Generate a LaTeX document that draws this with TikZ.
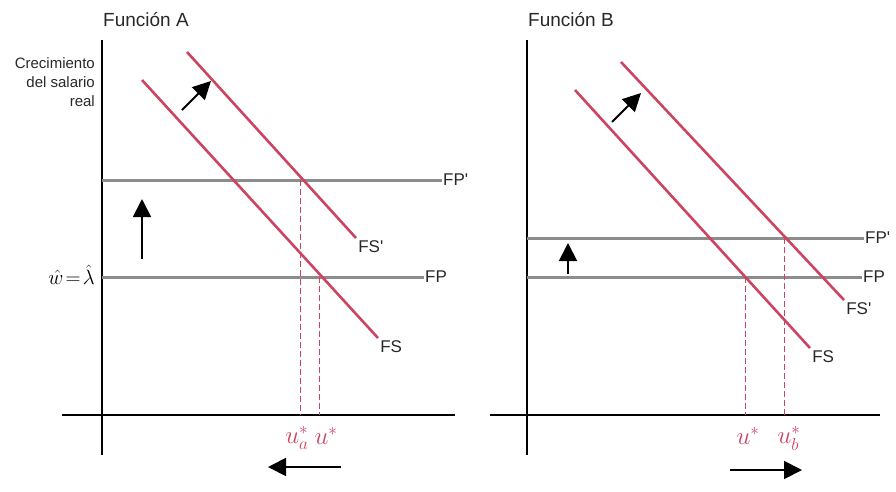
\documentclass[tikz,border=0pt]{standalone}
\usepackage{amsmath,amssymb}
\usepackage{fontspec}
\setmainfont{Liberation Sans}
\usepackage{tikz}
\usetikzlibrary{positioning,arrows.meta,calc}
\definecolor{crimson}{RGB}{204,68,98}
\definecolor{steel}{RGB}{140,140,140}
\definecolor{ink}{RGB}{40,40,40}

\begin{document}
\begin{tikzpicture}[x=1pt,y=-1pt,
   axis/.style={line width=1.6pt,black},
   fpline/.style={line width=3pt,steel},
   fsline/.style={line width=2.6pt,crimson},
   guide/.style={line width=0.8pt,crimson,dash pattern=on 6pt off 3pt},
   mover/.style={line width=1.8pt,-{Triangle[length=18pt,width=18pt]}},
   lbl/.style={text=ink,font=\fontsize{17}{19}\selectfont,inner sep=1pt},
   ttl/.style={text=ink,font=\fontsize{19}{21}\selectfont,anchor=west,inner sep=0pt},
   ulbl/.style={crimson,font=\fontsize{25}{27}\selectfont,inner sep=0pt}]
  \useasboundingbox (0,0) rectangle (896,491);
  % Funcion A
  \node[ttl] (titleA) at (103,20) {Función A};
  \draw[axis] (102,40) -- (102,455);
  \draw[axis] (62,415) -- (455,415);
  \node[align=right,anchor=north east,inner sep=0pt,text=ink,font=\fontsize{15}{19}\selectfont] (ylab) at (95,57) {Crecimiento\\del salario\\real};
  \node[anchor=east,inner sep=0pt,font=\fontsize{20}{22}\selectfont] (wl) at (95,275) {$\hat{w}\!=\!\hat{\lambda}$};
  \coordinate (fpA0) at (102,277);
  \coordinate (fpA1) at (102,180);
  \node[lbl,anchor=west] (fpA) at (424,277) {FP};
  \node[lbl,anchor=west] (fpAp) at (442,180) {FP\textquotesingle};
  \draw[fpline] (fpA0) -- (fpA.west);
  \draw[fpline] (fpA1) -- (fpAp.west);
  \coordinate (fsA0) at (142,80);
  \coordinate (fsA0e) at (378,338);
  \coordinate (fsA1) at (187,52);
  \coordinate (fsA1e) at (356,238);
  \draw[fsline] (fsA0) -- (fsA0e) node[lbl,anchor=north west] (fsA) {FS};
  \draw[fsline] (fsA1) -- (fsA1e) node[lbl,anchor=north west] (fsAp) {FS\textquotesingle};
  \coordinate (arA0) at (182,110);
  \coordinate (arA1) at (211,81);
  \draw[mover] (arA0) -- (arA1);
  \coordinate (upA0) at (142,259);
  \coordinate (upA1) at (142,199);
  \draw[mover] (upA0) -- (upA1);
  \node[ulbl] (uaA) at (297,438) {$u^*_a$};
  \node[ulbl] (uA) at (326,436) {$u^*$};
  \draw[guide] (300,180) -- (300,415);
  \draw[guide] (319,277) -- (319,415);
  \coordinate (lfA0) at (341,467);
  \coordinate (lfA1) at (268,467);
  \draw[mover] (lfA0) -- (lfA1);
  % Funcion B
  \node[ttl] (titleB) at (528,20) {Función B};
  \draw[axis] (527,40) -- (527,455);
  \draw[axis] (490,415) -- (880,415);
  \coordinate (fpB0) at (527,277);
  \coordinate (fpB1) at (527,238);
  \node[lbl,anchor=west] (fpB) at (862,277) {FP};
  \node[lbl,anchor=west] (fpBp) at (864,238) {FP\textquotesingle};
  \draw[fpline] (fpB0) -- (fpB.west);
  \draw[fpline] (fpB1) -- (fpBp.west);
  \coordinate (fsB0) at (575,90);
  \coordinate (fsB0e) at (810,348);
  \coordinate (fsB1) at (621,62);
  \coordinate (fsB1e) at (844,300);
  \draw[fsline] (fsB0) -- (fsB0e) node[lbl,anchor=north west] (fsB) {FS};
  \draw[fsline] (fsB1) -- (fsB1e) node[lbl,anchor=north west] (fsBp) {FS\textquotesingle};
  \coordinate (arB0) at (612,122);
  \coordinate (arB1) at (641,93);
  \draw[mover] (arB0) -- (arB1);
  \coordinate (upB0) at (568,274);
  \coordinate (upB1) at (568,243);
  \draw[mover] (upB0) -- (upB1);
  \node[ulbl] (uB) at (748,436) {$u^*$};
  \node[ulbl] (ubB) at (789,438) {$u^*_b$};
  \draw[guide] (745,277) -- (745,415);
  \draw[guide] (784,238) -- (784,415);
  \coordinate (rtB0) at (730,470);
  \coordinate (rtB1) at (802,470);
  \draw[mover] (rtB0) -- (rtB1);
\end{tikzpicture}
\end{document}
